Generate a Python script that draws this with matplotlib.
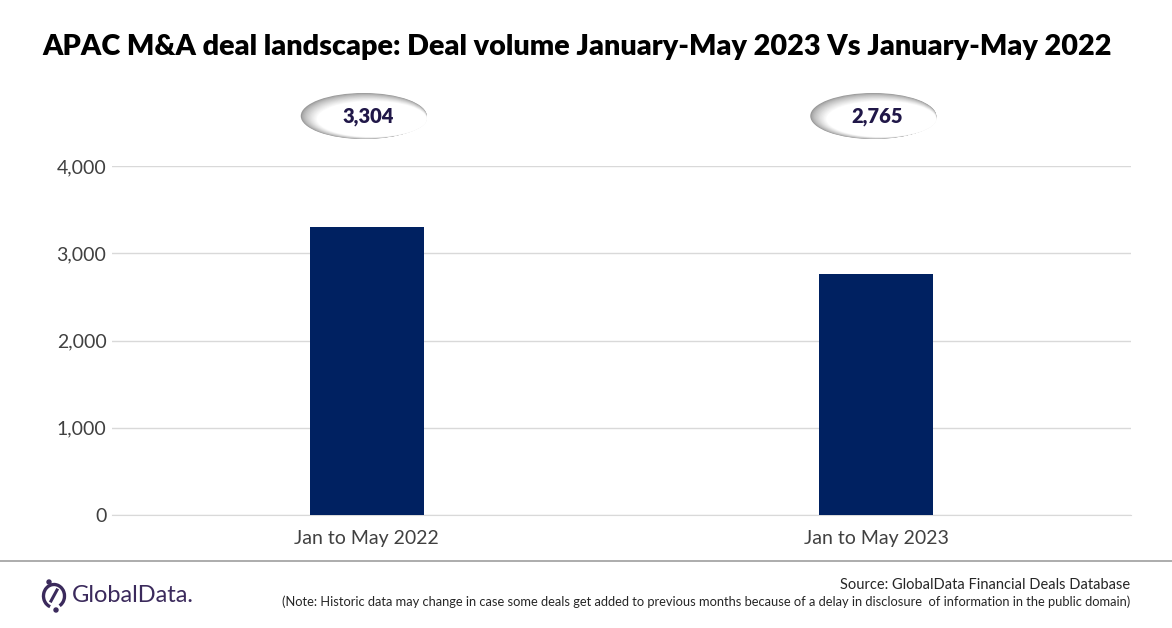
import numpy as np
from matplotlib import pyplot as plt
from matplotlib.patches import Ellipse, Arc
from matplotlib.lines import Line2D

categories = ['Jan to May 2022', 'Jan to May 2023']
deal_volume = [3304, 2765]
y_ticks = [0, 1000, 2000, 3000, 4000]

title = 'APAC M&A deal landscape: Deal volume January-May 2023 Vs January-May 2022'
source = 'Source: GlobalData Financial Deals Database'
note = ('(Note: Historic data may change in case some deals get added to previous months '
        'because of a delay in disclosure  of information in the public domain)')

plt.rcParams['font.family'] = ['Lato', 'DejaVu Sans']

fig = plt.figure(figsize=(11.72, 6.28), dpi=100)
W, H = 1172, 628


def fx(px):
    return px / W


def fy(py):
    return 1 - py / H


ax = fig.add_axes([fx(112), fy(515), fx(1131) - fx(112), fy(166) - fy(515)])
x = np.arange(len(categories))
ax.bar(x, deal_volume, width=0.224, color='#002161', zorder=3)
ax.set_xlim(-0.5, 1.5)
ax.set_ylim(0, 4000)
ax.set_yticks(y_ticks)
ax.set_yticklabels([f'{v:,}' for v in y_ticks])
ax.set_xticks(x)
ax.set_xticklabels(categories)
ax.tick_params(axis='both', length=0, labelsize=14, colors='#404040')
ax.tick_params(axis='y', pad=4)
ax.tick_params(axis='x', pad=11)
ax.yaxis.grid(True, color='#d9d9d9', linewidth=1)
ax.set_axisbelow(True)
for s in ax.spines.values():
    s.set_visible(False)
ax.spines['bottom'].set_visible(True)
ax.spines['bottom'].set_color('#d9d9d9')

# bubbles with the totals
ov = fig.add_axes([0, 0, 1, 1])
ov.set_xlim(0, W)
ov.set_ylim(H, 0)
ov.axis('off')
for i, v in enumerate(deal_volume):
    cx = ax.transData.transform((i, 0))[0] / fig.dpi / fig.get_size_inches()[0] * W
    cy = 117
    n = 14
    for k in range(n):
        t = k / (n - 1)
        g = 0.6 + 0.4 * t ** 0.7
        w = 126 - 16 * t
        h = 46 - 10 * t
        ov.add_patch(Ellipse((cx - 3 + 8 * t, cy - 1 + 3 * t), w, h,
                             color=(g, g, g), lw=0, zorder=2 + k))
    ov.text(cx + 1, cy, f'{v:,}', ha='center', va='center', fontsize=14.5,
            fontweight='heavy', color='#201748', zorder=30)

fig.text(fx(577), fy(47), title, ha='center', va='center', fontsize=20.7,
         fontweight='heavy', color='black')

ov.add_line(Line2D([0, W], [561, 561], color='#a6a6a6', lw=1.3))
fig.text(fx(1130), fy(585), source, ha='right', va='center', fontsize=10.5, color='#262626')
fig.text(fx(1130), fy(602), note, ha='right', va='center', fontsize=9.3, color='#262626')

# logo
logo_c = '#3b2a5c'
ov.add_patch(Arc((54, 596), 21, 23, theta1=110, theta2=420, color=logo_c, lw=2.4))
ov.add_line(Line2D([51, 57], [601, 590], color=logo_c, lw=2.2))
ov.add_patch(Ellipse((49, 582), 4, 4, color=logo_c))
ov.add_patch(Ellipse((56, 610), 4, 4, color=logo_c))
ov.text(72, 596, 'GlobalData.', ha='left', va='center', fontsize=17, color=logo_c)

fig.savefig('out.png', dpi=100)
